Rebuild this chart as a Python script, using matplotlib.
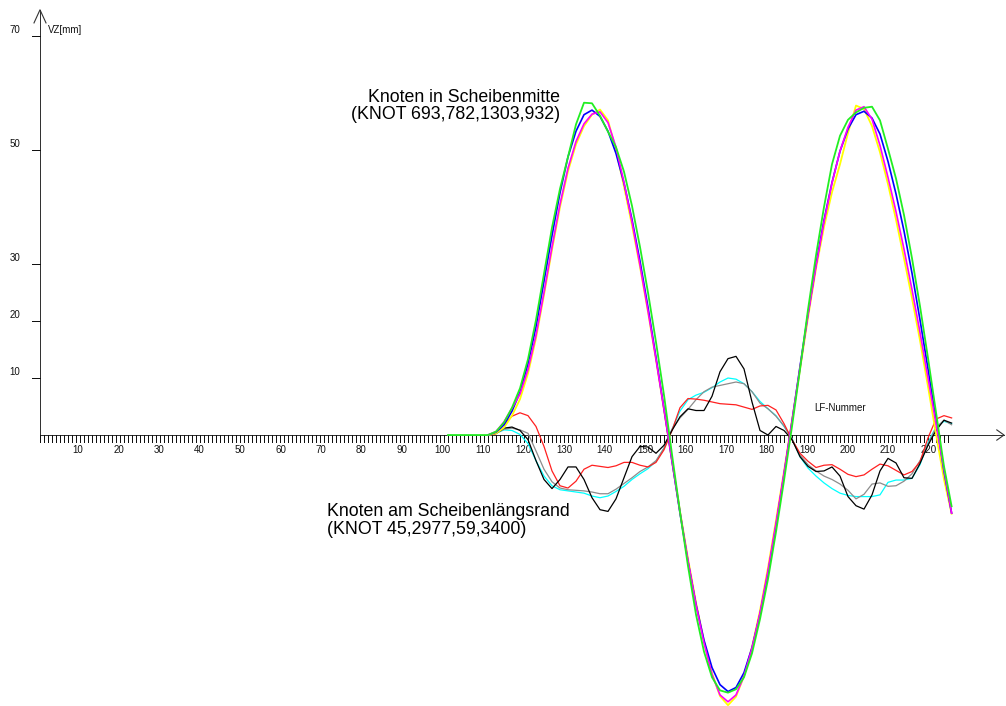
import matplotlib
matplotlib.use("Agg")
import matplotlib.pyplot as plt

# ---------------- data ----------------
# LF-Nummer positions (load step numbers)
x_small = list(range(112, 227, 2)) + [227.9]
x_green = [102] + x_small

# Knoten in Scheibenmitte (VZ [mm])
blue = [0,
        0.5, 1.8, 4.2, 7.5,
        12.5, 19, 27, 35, 42.5,
        48.8, 53.3, 56.2, 57.0, 55.9,
        53.3, 49.4, 44.2, 37.8, 30.5,
        22.4, 13.6, 4.6, -4.6, -13.7,
        -22.2, -29.7, -36.0, -40.8, -43.8,
        -45.0, -44.3, -41.7, -37.3, -31.4,
        -24.2, -15.9, -6.9, 2.4, 12.0,
        21.3, 29.9, 37.7, 44.3, 49.8,
        53.7, 56.2, 56.8, 55.6, 52.8,
        48.0, 42.3, 35.8, 28.4, 20.2,
        11.6, 2.6, -6.4,
        -13.7]
green = [0, 0,
         0.6, 2.2, 4.8, 8.2,
         13.3, 20.2, 28.3, 36.4, 43.2,
         48.8, 54.5, 58.3, 58.2, 56.0,
         53.2, 50.5, 46.2, 40.2, 33.0,
         25.0, 16.3, 7.0, -3.4, -13.5,
         -23.0, -31.5, -38.0, -42.5, -44.8,
         -45.2, -44.6, -42.5, -38.3, -32.3,
         -25.3, -17.0, -8.0, 1.5, 11.5,
         22.0, 31.5, 40.0, 47.5, 52.5,
         55.3, 56.6, 57.4, 57.6, 55.2,
         50.2, 45.0, 38.6, 31.0, 22.6,
         13.5, 4.0, -5.5,
         -12.5]
yellow = [0,
          0.3, 1.3, 3.4, 6.3,
          10.8, 17.0, 24.6, 32.5, 40.0,
          46.3, 51.0, 54.2, 56.2, 57.1,
          55.2, 50.0, 43.6, 36.8, 29.5,
          21.6, 13.2, 4.4, -4.6, -13.4,
          -21.7, -29.4, -36.2, -41.8, -45.8,
          -47.4, -45.9, -42.3, -37.2, -30.8,
          -23.3, -15.0, -6.4, 2.6, 11.5,
          20.6, 29.2, 36.5, 42.6, 47.5,
          53.0, 57.8, 57.2, 54.2, 49.6,
          44.0, 37.8, 31.0, 24.0, 16.6,
          8.5, 0.2, -7.8,
          -13.8]
magenta = [0,
           0.6, 2.3, 4.7, 7.2,
           11.5, 17.5, 25.0, 33.0, 40.5,
           46.8, 51.5, 54.6, 56.3, 56.7,
           54.8, 50.5, 44.3, 37.4, 29.8,
           21.8, 13.3, 4.5, -4.5, -13.5,
           -22.0, -29.8, -36.5, -42.0, -45.6,
           -46.8, -45.6, -42.3, -37.4, -31.2,
           -23.8, -15.5, -6.7, 2.4, 11.8,
           21.0, 29.6, 37.4, 44.2, 49.8,
           54.0, 57.0, 57.6, 55.4, 50.8,
           45.2, 39.2, 32.6, 25.5, 18.0,
           10.0, 2.0, -6.0,
           -13.7]

# Knoten am Scheibenlaengsrand (VZ [mm])
red = [0,
       0.2, 1.9, 3.3, 3.9,
       3.4, 1.5, -2.0, -6.3, -8.9,
       -9.3, -8.1, -6.0, -5.3, -5.5,
       -5.7, -5.4, -4.8, -4.8, -5.3,
       -5.6, -4.8, -2.6, 0.8, 4.8,
       6.4, 6.3, 6.1, 5.8, 5.5,
       5.4, 5.3, 4.9, 4.5, 5.1,
       5.2, 4.4, 2.0, -0.8, -3.2,
       -4.6, -5.7, -5.3, -5.2, -6.0,
       -6.9, -7.3, -7.0, -6.0, -5.1,
       -5.4, -6.2, -7.0, -6.4, -4.7,
       -0.5, 2.8, 3.4,
       3.0]
black = [0,
         0.3, 1.2, 1.4, 0.8,
         -0.8, -4.5, -7.8, -9.4, -7.8,
         -5.6, -5.6, -7.8, -11.0, -13.1,
         -13.4, -11.2, -7.5, -3.8, -2.0,
         -2.1, -3.2, -1.8, 0.8, 3.2,
         4.6, 4.3, 4.3, 6.8, 11.1,
         13.4, 13.8, 11.6, 5.8, 0.8,
         0.0, 1.5, 0.8, -0.8, -3.8,
         -5.5, -6.4, -6.3, -5.6, -7.2,
         -10.8, -12.4, -13.0, -10.5, -6.3,
         -4.1, -4.9, -7.5, -7.6, -5.0,
         -1.8, 0.8, 2.6,
         2.1]
gray = [0,
        0.3, 1.0, 1.2, 0.9,
        0.3, -2.8, -6.0, -8.2, -9.3,
        -9.6, -9.7, -9.8, -10.0, -10.3,
        -10.3, -9.5, -8.5, -7.5, -6.4,
        -5.6, -4.5, -2.3, 1.0, 3.0,
        4.5, 6.2, 7.6, 8.4, 8.7,
        9.0, 9.3, 9.0, 7.6, 5.6,
        4.6, 3.3, 1.6, -0.8, -3.5,
        -5.2, -6.3, -7.2, -7.8, -8.6,
        -9.7, -11.2, -10.4, -8.6, -8.4,
        -9.0, -8.9, -8.1, -6.8, -4.5,
        -1.6, 1.3, 2.6,
        1.8]
cyan = [0,
        0.3, 0.9, 0.8, 0.1,
        -1.5, -4.5, -7.2, -8.9, -9.6,
        -9.8, -10.0, -10.2, -10.7, -11.0,
        -10.7, -9.9, -9.0, -7.8, -6.8,
        -5.9, -4.6, -2.3, 1.0, 4.2,
        6.2, 7.0, 7.5, 8.3, 9.3,
        10.0, 9.8, 9.0, 7.6, 5.9,
        4.6, 3.4, 1.5, -0.6, -3.8,
        -5.8, -7.2, -8.4, -9.4, -10.2,
        -10.6, -10.8, -10.8, -10.8, -10.5,
        -8.3, -7.9, -7.9, -7.6, -5.2,
        -1.3, 1.4, 2.4,
        2.0]

x_tick_labels = list(range(10, 230, 10))
y_tick_values = [10, 20, 30, 50, 70]
x_ticks = list(range(0, 228))

# ---------------- figure ----------------
fig = plt.figure(figsize=(10.06, 7.06), dpi=100)
ax = fig.add_axes([0, 0, 1, 1])
ax.set_xlim(-10, 241.5)
ax.set_ylim(-47.54, 76.32)
ax.axis("off")

axis_col = "#333333"
thin = 0.6

# x axis with open arrow
ax.plot([0, 241], [0, 0], color=axis_col, lw=thin, zorder=2, antialiased=False)
ax.plot([239.2, 241, 239.2], [0.9, 0, -0.9], color=axis_col, lw=0.8, zorder=2)
# y axis with open arrow
ax.plot([0, 0], [0, 74.6], color=axis_col, lw=thin, zorder=2, antialiased=False)
ax.plot([-1.5, 0, 1.5], [72.3, 74.6, 72.3], color=axis_col, lw=0.8, zorder=2)

# x ticks (every LF step)
ax.vlines(x_ticks, -1.25, 0, color="#111111", lw=thin, zorder=2, antialiased=False)
# y ticks
ax.hlines(y_tick_values, -1.9, 0, color="#111111", lw=thin, zorder=2, antialiased=False)

tick_font = dict(family="Liberation Sans", fontsize=7.0, color="#111111")
for k in x_tick_labels:
    xpos = (4.05 * k - 2.5) / 4.0
    ax.text(xpos, -2.7, str(k), ha="center", va="center", **tick_font)
for v in y_tick_values:
    ax.text(-6.25, v + 1.1, str(v), ha="center", va="center", **tick_font)

ax.text(2.0, 71.0, "VZ[mm]", ha="left", va="center", **tick_font)
ax.text(200, 4.75, "LF-Nummer", ha="center", va="center", **tick_font)

# small curves (edge nodes)
ax.plot(x_small, cyan, color="#00ffff", lw=0.9, zorder=3)
ax.plot(x_small, gray, color="#8c8c8c", lw=0.9, zorder=3)
ax.plot(x_small, red, color="#ff2020", lw=0.9, zorder=3)
ax.plot(x_small, black, color="#000000", lw=0.9, zorder=3)

# big curves (centre nodes)
ax.plot(x_small, yellow, color="#ffff00", lw=1.3, zorder=4)
ax.plot(x_small, blue, color="#0000ff", lw=1.2, zorder=4)
ax.plot(x_small, magenta, color="#ff00ff", lw=1.2, zorder=4)
ax.plot(x_green, green, color="#22ee22", lw=1.3, zorder=4)

ann_font = dict(family="Liberation Sans", fontsize=12.8, color="black")
ax.text(130, 59.3, "Knoten in Scheibenmitte", ha="right", va="center", **ann_font)
ax.text(130, 56.3, "(KNOT 693,782,1303,932)", ha="right", va="center", **ann_font)
ax.text(71.75, -13.5, "Knoten am Scheibenlängsrand", ha="left", va="center", **ann_font)
ax.text(71.75, -16.6, "(KNOT 45,2977,59,3400)", ha="left", va="center", **ann_font)

fig.savefig("out.png", dpi=100, facecolor="white")
